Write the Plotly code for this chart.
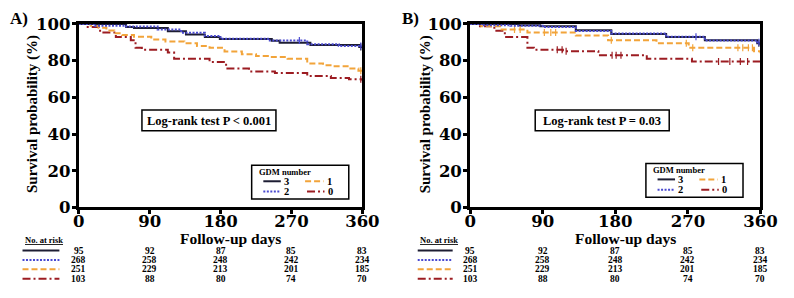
import plotly.graph_objects as go

W, H = 794, 298

# ---------------- data ----------------
groups = ["3", "2", "1", "0"]
risk_days = [0, 90, 180, 270, 360]
risk_g3 = [95, 92, 87, 85, 83]
risk_g2 = [268, 258, 248, 242, 234]
risk_g1 = [251, 229, 213, 201, 185]
risk_g0 = [103, 88, 80, 74, 70]

a_days_g3 = [0, 60, 70, 113, 136, 160, 179, 245, 255, 294, 356, 360]
a_surv_g3 = [100, 98.3, 97.8, 96, 94.2, 92.9, 91.8, 90.8, 89.8, 88.6, 87.4, 87]
a_days_g2 = [0, 20, 60, 100, 130, 160, 180, 240, 290, 330, 360]
a_surv_g2 = [100, 99, 98.6, 97, 95.2, 93.5, 92, 91, 89, 88, 87.5]
a_days_g1 = [0, 15, 25, 35, 45, 55, 70, 92, 110, 134, 150, 166, 185, 207, 225, 240, 265, 290, 310, 323, 343, 355, 360]
a_surv_g1 = [100, 99, 98, 96.5, 95, 94, 93, 91.5, 90.5, 89.5, 88, 87, 85, 83.5, 82.5, 82, 81, 78.5, 77.5, 77, 75.8, 74.5, 74]
a_days_g0 = [0, 10, 27, 47, 66, 72, 80, 113, 121, 166, 187, 216, 249, 290, 320, 343, 360]
a_surv_g0 = [100, 98.3, 95.4, 92.9, 91.2, 87, 86, 84.4, 81, 79.3, 75.8, 74.1, 73.3, 71.6, 70.5, 69.9, 69]

b_days_g3 = [0, 60, 87, 131, 175, 243, 291, 356, 360]
b_surv_g3 = [100, 99.3, 98.8, 96.6, 94.6, 92.9, 91.2, 89.5, 88.5]
b_days_g2 = [0, 15, 50, 90, 131, 175, 243, 291, 356, 360]
b_surv_g2 = [100, 99.3, 99, 98.3, 96.2, 94.8, 93, 91, 90, 89]
b_days_g1 = [0, 14, 39, 71, 131, 171, 231, 271, 352, 360]
b_surv_g1 = [100, 98.8, 97, 95.4, 93.7, 91.2, 89.5, 87, 85.2, 84]
b_days_g0 = [0, 10, 30, 43, 71, 79, 115, 159, 219, 275, 360]
b_surv_g0 = [100, 98.8, 96.3, 92.9, 87, 86, 85.2, 83, 81, 79.6, 79]

# censoring times (small vertical tick marks on the curves)
a_cens_g3 = [358]
a_cens_g2 = [280, 358]
a_cens_g1 = [358]
a_cens_g0 = [358]
b_cens_g3 = [358]
b_cens_g2 = [280, 358]
b_cens_g1 = [55, 62, 92, 100, 106, 175, 268, 276, 332, 338, 345, 350]
b_cens_g0 = [108, 114, 119, 176, 181, 187, 308, 322, 335, 344]

x_ticks = [0, 90, 180, 270, 360]
y_ticks = [0, 20, 40, 60, 80, 100]

# ---------------- styles ----------------
colors = {"3": "#1d1d33", "2": "#4a4ad0", "1": "#f2a43a", "0": "#9c1c22"}
dashes = {"3": "solid", "2": "2px,1.5px", "1": "6px,3px", "0": "8px,3px,2px,3px"}
SERIF = "Liberation Serif"


def px(x):
    return x / W


def py(y):
    return 1 - y / H


def step_at(days, surv, t):
    v = surv[0]
    for d, s in zip(days, surv):
        if d <= t:
            v = s
    return v


fig = go.Figure()

panels = [
    ("x", "y", {"3": (a_days_g3, a_surv_g3, a_cens_g3), "2": (a_days_g2, a_surv_g2, a_cens_g2),
                "1": (a_days_g1, a_surv_g1, a_cens_g1), "0": (a_days_g0, a_surv_g0, a_cens_g0)}),
    ("x2", "y2", {"3": (b_days_g3, b_surv_g3, b_cens_g3), "2": (b_days_g2, b_surv_g2, b_cens_g2),
                  "1": (b_days_g1, b_surv_g1, b_cens_g1), "0": (b_days_g0, b_surv_g0, b_cens_g0)}),
]
for xa, ya, data in panels:
    for g in ["0", "1", "3", "2"]:
        d, s, c = data[g]
        fig.add_trace(go.Scatter(x=d, y=s, mode="lines", line_shape="hv",
                                 line=dict(color=colors[g], width=2, dash=dashes[g]),
                                 xaxis=xa, yaxis=ya, showlegend=False, hoverinfo="skip"))
        fig.add_trace(go.Scatter(x=c, y=[step_at(d, s, t) for t in c], mode="markers",
                                 marker=dict(symbol="line-ns", size=5,
                                             line=dict(color=colors[g], width=1.2)),
                                 xaxis=xa, yaxis=ya, showlegend=False, hoverinfo="skip"))

axis_common = dict(showgrid=False, zeroline=False, showline=True, linecolor="black",
                   linewidth=3, mirror=True, ticks="outside", ticklen=4, tickwidth=3,
                   tickcolor="black",
                   tickfont=dict(family="DejaVu Serif", size=16.5, color="black", weight="bold"))
ydom = [py(212), py(16)]
fig.update_layout(
    width=W, height=H, margin=dict(l=0, r=0, t=0, b=0),
    paper_bgcolor="white", plot_bgcolor="white",
    xaxis=dict(domain=[px(75), px(367)], range=[0, 360], tickvals=x_ticks, anchor="y",
               ticklabelstandoff=-7, **axis_common),
    yaxis=dict(domain=ydom, range=[0, 100], tickvals=y_ticks, anchor="x",
               ticklabelstandoff=-2, **axis_common),
    xaxis2=dict(domain=[px(478), px(777)], range=[0, 360], tickvals=x_ticks, anchor="y2",
                ticklabelstandoff=-7, **axis_common),
    yaxis2=dict(domain=ydom, range=[0, 100], tickvals=y_ticks, anchor="x2",
                ticklabelstandoff=-2, **axis_common),
)

annotations = []
shapes = []


def txt(x, y, text, size, xanchor="center", yanchor="middle", angle=0, xref="paper", family=SERIF):
    annotations.append(dict(x=x, y=y, xref=xref, yref="paper", text=text, showarrow=False,
                            xanchor=xanchor, yanchor=yanchor, textangle=angle,
                            font=dict(family=family, size=size, color="black")))


def hline(x0, x1, y, g, width=2):
    shapes.append(dict(type="line", xref="paper", yref="paper", x0=px(x0), x1=px(x1),
                       y0=py(y), y1=py(y), line=dict(color=colors[g], width=width, dash=dashes[g])))


def rect(x0, y0, x1, y1, width=1.5):
    shapes.append(dict(type="rect", xref="paper", yref="paper", x0=px(x0), x1=px(x1),
                       y0=py(y0), y1=py(y1), line=dict(color="black", width=width), fillcolor="white",
                       layer="above"))


risks = {"3": risk_g3, "2": risk_g2, "1": risk_g1, "0": risk_g0}
row_y = {"3": 258, "2": 268, "1": 278, "0": 288}

for dx, label, ptxt, xref, ttl_x in [(0, "A)", "Log-rank test P &lt; 0.001", "x", 28),
                                     (404, "B)", "Log-rank test P = 0.03", "x2", 432)]:
    # panel label
    txt(px(2 + dx), py(10), "<b>%s</b>" % label, 17, xanchor="left")
    # y title
    txt(px(ttl_x), py(112), "<b>Survival probability (%)</b>", 15, angle=-90)
    # x title
    txt(px(231 + dx + (3 if dx else 0)), py(245.5), "<b>Follow-up days</b>", 15.5)
    # log-rank box
    bx0 = 140 + dx + (1 if dx else 0)
    rect(bx0, 108, bx0 + 138, 130)
    txt(px(bx0 + 69), py(119.5), "<b>%s</b>" % ptxt, 12.5)
    # legend box
    lx = 253 + dx + (2 if dx else 0)
    ly = 167 - (2 if dx else 0)
    rect(lx, ly, lx + 100, ly + 36)
    txt(px(lx + 5), py(ly + 7), "<b>GDM number</b>", 8.5, xanchor="left")
    for g, cx, ry, lx0, lx1 in [("3", 0, 17, 12, 30), ("2", 0, 28, 12, 30),
                                ("1", 1, 17, 55, 74), ("0", 1, 28, 57, 75)]:
        hline(lx + lx0, lx + lx1, ly + ry, g, width=2)
        txt(px(lx + lx1 + 6), py(ly + ry), "<b>%s</b>" % g, 10.5)
    # risk table
    txt(px(17 + dx + (3 if dx else 0)), py(247), "<b><u>No. at risk</u></b>", 8.5, xanchor="left")
    for g in groups:
        hline(17 + dx + (3 if dx else 0), 55 + dx + (1 if dx else 0), row_y[g], g, width=2)
        for d, v in zip(risk_days, risks[g]):
            annotations.append(dict(x=d, y=py(row_y[g]), xref=xref, yref="paper", text="<b>%d</b>" % v,
                                    showarrow=False, xanchor="center", yanchor="middle",
                                    font=dict(family=SERIF, size=9.5, color="black")))

fig.update_layout(annotations=annotations, shapes=shapes)
fig.write_html("out.html", post_script="document.body.style.margin='0px';",
               config={"displayModeBar": False})
